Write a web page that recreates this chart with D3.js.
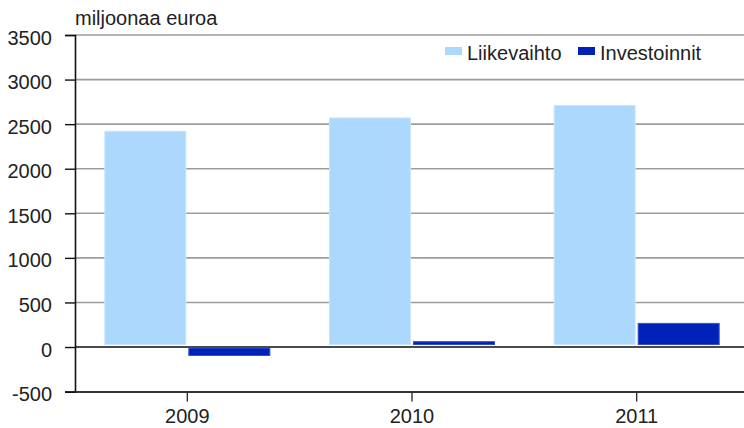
<!DOCTYPE html>
<html>
<head>
<meta charset="utf-8">
<script src="https://cdn.jsdelivr.net/npm/d3@7"></script>
<style>
  body { margin: 0; background: #fff; }
  text { font-family: "Liberation Sans", Arial, sans-serif; fill: #222; }
</style>
</head>
<body>
<div id="chart"></div>
<script>
var years = ["2009", "2010", "2011"];
var seriesNames = ["Liikevaihto", "Investoinnit"];
var liikevaihto = [2420, 2570, 2710];
var investoinnit = [-95, 60, 265];
var yTicks = [-500, 0, 500, 1000, 1500, 2000, 2500, 3000, 3500];
var colors = ["#add8fd", "#0022b8"];
var strokes = ["#c9e5ff", "#3050cc"];

var width = 744, height = 428;

var svg = d3.select("#chart")
    .append("svg")
    .attr("width", width)
    .attr("height", height);

var x0 = d3.scaleBand()
    .domain(years)
    .range([75, 749]);

var x1 = d3.scaleBand()
    .domain(seriesNames)
    .range([0, 166])
    .paddingInner(0.024);

var y = d3.scaleLinear()
    .domain([-500, 3500])
    .range([391.6, 35]);

// gridlines
svg.append("g")
    .selectAll("line")
    .data(yTicks.filter(function (d) { return d > -500 && d !== 0; }))
    .enter().append("line")
    .attr("x1", 75)
    .attr("x2", width)
    .attr("y1", function (d) { return y(d); })
    .attr("y2", function (d) { return y(d); })
    .attr("stroke", "#9d9d9d")
    .attr("stroke-width", 1.6);

// bars
var rows = years.map(function (yr, i) {
    return { year: yr, values: [liikevaihto[i], investoinnit[i]] };
});

var groups = svg.append("g")
    .selectAll("g")
    .data(rows)
    .enter().append("g")
    .attr("transform", function (d) {
        return "translate(" + (x0(d.year) + x0.bandwidth() / 2 - 83) + ",0)";
    });

groups.selectAll("rect")
    .data(function (d) {
        return d.values.map(function (v, i) { return { key: seriesNames[i], value: v, i: i }; });
    })
    .enter().append("rect")
    .attr("x", function (d) { return x1(d.key) + 0.5; })
    .attr("width", x1.bandwidth() - 1)
    .attr("y", function (d) { return d.value >= 0 ? y(d.value) : y(0) + 1; })
    .attr("height", function (d) {
        return d.value >= 0 ? Math.max(0, y(0) - 2.5 - y(d.value)) : y(d.value) - y(0) - 1;
    })
    .attr("fill", function (d) { return colors[d.i]; })
    .attr("stroke", function (d) { return strokes[d.i]; })
    .attr("stroke-width", 1);

// zero line
svg.append("line")
    .attr("x1", 75)
    .attr("x2", width)
    .attr("y1", y(0))
    .attr("y2", y(0))
    .attr("stroke", "#4a4a4a")
    .attr("stroke-width", 2);

// y axis
var yAxis = d3.axisLeft(y)
    .tickValues(yTicks)
    .tickSize(10)
    .tickPadding(13)
    .tickFormat(function (d) { return String(d); });

var gy = svg.append("g")
    .attr("transform", "translate(75,0)")
    .call(yAxis);
gy.select(".domain").attr("stroke", "#111").attr("stroke-width", 1.6);
gy.selectAll(".tick line").attr("stroke", "#111").attr("stroke-width", 1.4);
gy.selectAll(".tick text")
    .attr("font-size", 20)
    .attr("dy", "0.45em")
    .style("font-family", "'Liberation Sans', Arial, sans-serif")
    .attr("fill", "#222");

// x axis
var xAxis = d3.axisBottom(x0)
    .tickSize(10)
    .tickSizeOuter(0)
    .tickPadding(7);

var gx = svg.append("g")
    .attr("transform", "translate(0," + y(-500) + ")")
    .call(xAxis);
gx.select(".domain").attr("stroke", "#333").attr("stroke-width", 2);
gx.selectAll(".tick line").attr("stroke", "#333").attr("stroke-width", 1.4);
gx.selectAll(".tick text")
    .attr("font-size", 20)
    .style("font-family", "'Liberation Sans', Arial, sans-serif")
    .attr("fill", "#222");

// unit label
svg.append("text")
    .attr("x", 75)
    .attr("y", 25)
    .attr("font-size", 20)
    .text("miljoonaa euroa");

// legend
var legendX = [445, 578];
var legend = svg.append("g")
    .selectAll("g")
    .data(seriesNames)
    .enter().append("g")
    .attr("transform", function (d, i) { return "translate(" + legendX[i] + ",47)"; });

legend.append("rect")
    .attr("width", 17)
    .attr("height", 8)
    .attr("fill", function (d, i) { return colors[i]; });

legend.append("text")
    .attr("x", 22)
    .attr("y", 13)
    .attr("font-size", 20)
    .text(function (d) { return d; });
</script>
</body>
</html>
